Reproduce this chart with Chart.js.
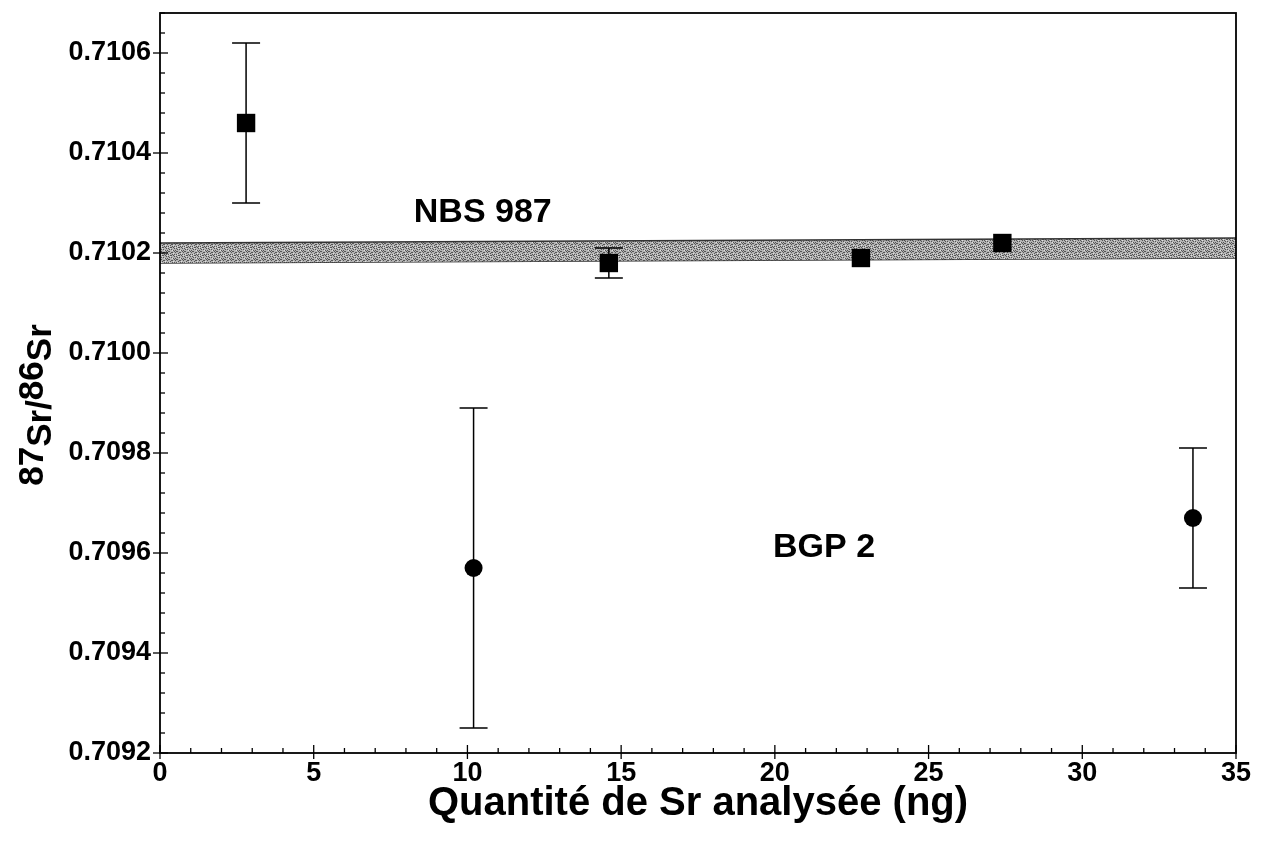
<!DOCTYPE html>
<html><head><meta charset="utf-8">
<script src="https://cdn.jsdelivr.net/npm/chart.js@4.4.0/dist/chart.umd.min.js"></script>
<style>html,body{margin:0;padding:0;background:#fff}#wrap{width:1269px;height:844px;position:relative}</style>
</head><body><div id="wrap"><canvas id="c" width="1269" height="844" style="width:1269px;height:844px"></canvas></div>
<script>
// ---- data ----
const nbsX = [2.8, 14.6, 22.8, 27.4];
const nbsY = [0.71046, 0.71018, 0.71019, 0.71022];
const nbsErrLow = [0.71030, 0.71015, null, null];
const nbsErrHigh = [0.71062, 0.71021, null, null];
const bgpX = [10.2, 33.6];
const bgpY = [0.70957, 0.70967];
const bgpErrLow = [0.70925, 0.70953];
const bgpErrHigh = [0.70989, 0.70981];
const bandX = [0, 35];
const bandTop = [0.71022, 0.71023];
const bandBottom = [0.71018, 0.71019];
const xMin = 0, xMax = 35, xStep = 5;
const yMin = 0.7092, yMax = 0.71068, yStep = 0.0002;
const xTitle = 'Quantité de Sr analysée (ng)';
const yTitleParts = [['87', true], ['Sr/', false], ['86', true], ['Sr', false]];
const notes = [['NBS 987', 10.5, 0.71028], ['BGP 2', 21.6, 0.70961]];

const FONT = '"Liberation Sans", Arial, Helvetica, sans-serif';

// stipple pattern for the band
function makePattern() {
  const p = document.createElement('canvas');
  p.width = 8; p.height = 8;
  const g = p.getContext('2d');
  g.fillStyle = '#b4b4b4'; g.fillRect(0, 0, 8, 8);
  g.fillStyle = '#555';
  const dots = [[0,0],[3,1],[6,0],[1,3],[5,2],[7,4],[2,5],[4,4],[0,6],[6,6],[3,7],[5,7],[1,1],[7,2],[2,7],[4,6],[0,3],[6,3],[3,4]];
  dots.forEach(d => g.fillRect(d[0], d[1], 1, 1));
  g.fillStyle = '#e0e0e0';
  [[2,0],[5,5],[1,6],[7,7],[4,2]].forEach(d => g.fillRect(d[0], d[1], 1, 1));
  return document.getElementById('c').getContext('2d').createPattern(p, 'repeat');
}

const toPts = (xs, ys) => xs.map((x, i) => ({x: x, y: ys[i]}));

const framePlugin = {
  id: 'frame',
  afterDatasetsDraw(chart) {
    const ctx = chart.ctx, xs = chart.scales.x, ys = chart.scales.y;
    ctx.save();
    ctx.strokeStyle = '#000'; ctx.lineWidth = 1.5;
    // error bars
    const bars = (xa, ya, lo, hi) => {
      xa.forEach((x, i) => {
        if (lo[i] == null || hi[i] == null) return;
        const px = xs.getPixelForValue(x);
        const p1 = ys.getPixelForValue(lo[i]), p2 = ys.getPixelForValue(hi[i]);
        ctx.beginPath();
        ctx.moveTo(px, p1); ctx.lineTo(px, p2);
        ctx.moveTo(px - 14, p1); ctx.lineTo(px + 14, p1);
        ctx.moveTo(px - 14, p2); ctx.lineTo(px + 14, p2);
        ctx.stroke();
      });
    };
    bars(nbsX, nbsY, nbsErrLow, nbsErrHigh);
    bars(bgpX, bgpY, bgpErrLow, bgpErrHigh);
    // frame
    const a = chart.chartArea;
    ctx.lineWidth = 1.8;
    ctx.strokeRect(a.left, a.top, a.right - a.left, a.bottom - a.top);
    // ticks
    ctx.lineWidth = 1.3;
    for (let v = xMin; v <= xMax + 1e-9; v += 1) {
      const px = xs.getPixelForValue(v);
      const major = Math.abs(v / xStep - Math.round(v / xStep)) < 1e-6;
      ctx.beginPath();
      ctx.moveTo(px, a.bottom + (major ? 6 : 0));
      ctx.lineTo(px, a.bottom - (major ? 8 : 5));
      ctx.stroke();
    }
    for (let k = 0; ; k++) {
      const v = yMin + k * yStep / 5;
      if (v > yMax + 1e-9) break;
      const py = ys.getPixelForValue(v);
      const major = k % 5 === 0;
      ctx.beginPath();
      ctx.moveTo(a.left - (major ? 7 : 0), py);
      ctx.lineTo(a.left + (major ? 8 : 5), py);
      ctx.stroke();
    }
    // annotations
    ctx.fillStyle = '#000';
    ctx.font = 'bold 34px ' + FONT;
    ctx.textAlign = 'center'; ctx.textBaseline = 'middle';
    notes.forEach(n => ctx.fillText(n[0], xs.getPixelForValue(n[1]), ys.getPixelForValue(n[2])));
    // y title
    ctx.translate(38, 405);
    ctx.rotate(-Math.PI / 2);
    ctx.font = 'bold 35px ' + FONT;
    ctx.textAlign = 'left'; ctx.textBaseline = 'middle';
    let total = 0;
    yTitleParts.forEach(p => total += ctx.measureText(p[0]).width);
    let cx = -total / 2;
    yTitleParts.forEach(p => {
      ctx.fillText(p[0], cx, p[1] ? -5 : 3);
      cx += ctx.measureText(p[0]).width;
    });
    ctx.restore();
  }
};

function noPad(s) { s.paddingTop = 0; s.paddingBottom = 0; s.paddingLeft = 0; s.paddingRight = 0; }

new Chart(document.getElementById('c'), {
  type: 'scatter',
  data: {
    datasets: [
      {
        type: 'line', label: 'band top', data: toPts(bandX, bandTop),
        borderColor: '#333', borderWidth: 1.3, pointRadius: 0, fill: '+1',
        backgroundColor: makePattern(), order: 3
      },
      {
        type: 'line', label: 'band bottom', data: toPts(bandX, bandBottom),
        borderColor: '#333', borderWidth: 1.3, pointRadius: 0, fill: false, order: 3
      },
      {
        label: 'NBS 987', data: toPts(nbsX, nbsY), pointStyle: 'rect',
        pointRadius: 13, backgroundColor: '#000', borderColor: '#000', borderWidth: 0, order: 0
      },
      {
        label: 'BGP 2', data: toPts(bgpX, bgpY), pointStyle: 'circle',
        pointRadius: 9, backgroundColor: '#000', borderColor: '#000', borderWidth: 0, order: 0
      }
    ]
  },
  options: {
    responsive: false,
    animation: false,
    devicePixelRatio: 1,
    layout: {padding: {left: 0, top: 10, right: 33, bottom: 0}},
    plugins: {legend: {display: false}, tooltip: {enabled: false}},
    scales: {
      x: {
        type: 'linear', min: xMin, max: xMax,
        grid: {display: false, drawTicks: false}, border: {display: false},
        ticks: {stepSize: xStep, color: '#000', padding: 4, font: {family: FONT, size: 27, weight: 'bold'}, maxRotation: 0},
        title: {display: true, text: xTitle, color: '#000', font: {family: FONT, size: 40, weight: 'bold'}, padding: {top: 0, bottom: 16}},
        afterFit(s) { s.height = 91; noPad(s); }
      },
      y: {
        type: 'linear', min: yMin, max: yMax,
        grid: {display: false, drawTicks: false}, border: {display: false},
        ticks: {stepSize: yStep, includeBounds: false, color: '#000', padding: 9,
          font: {family: FONT, size: 27, weight: 'bold'},
          callback: v => Number(v).toFixed(4)},
        afterFit(s) { s.width = 160; noPad(s); }
      }
    }
  },
  plugins: [framePlugin]
});
</script>
</body></html>
